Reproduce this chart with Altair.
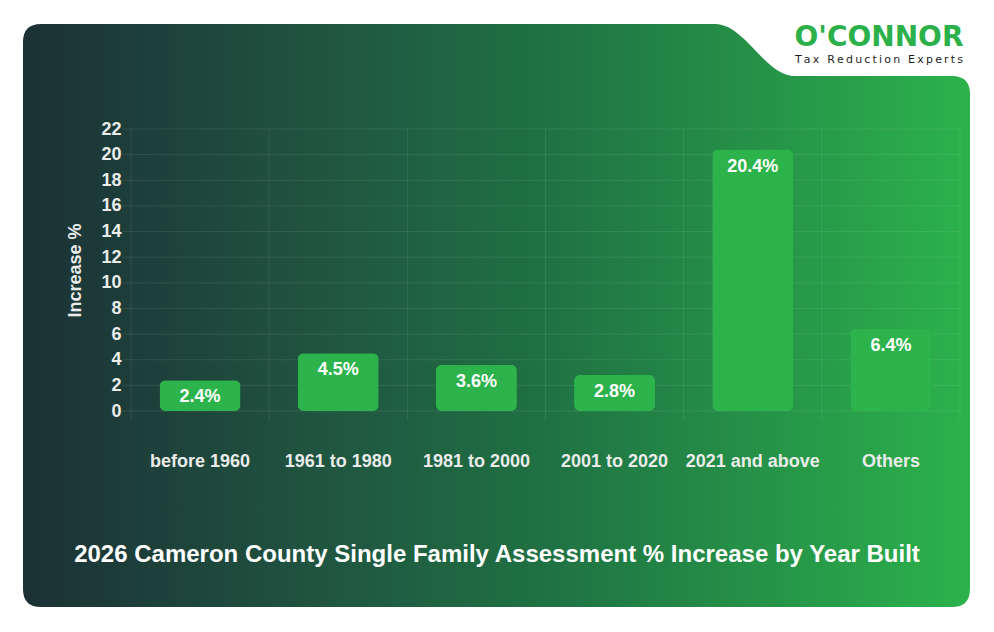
import altair as alt
import pandas as pd

# ---- data -------------------------------------------------------------
categories = ["before 1960", "1961 to 1980", "1981 to 2000",
              "2001 to 2020", "2021 and above", "Others"]
increase = [2.4, 4.5, 3.6, 2.8, 20.4, 6.4]
y_ticks = [0, 2, 4, 6, 8, 10, 12, 14, 16, 18, 20, 22]

chart_title = "2026 Cameron County Single Family Assessment % Increase by Year Built"
brand = "O'CONNOR"
tagline = "Tax Reduction Experts"

# ---- layout (plot area placed inside a 994x632 canvas) -----------------
W, H = 829, 282          # plot area
OX, OY = 131, 129        # plot origin on the canvas
PAD = {"left": OX, "top": OY, "right": 994 - OX - W, "bottom": 632 - OY - H}


def canvas_path(cmds):
    """Build an SVG path in plot coordinates from canvas-coordinate commands."""
    out = []
    for cmd, *pts in cmds:
        coords = []
        for i in range(0, len(pts), 2):
            coords.append(f"{pts[i] - OX},{pts[i + 1] - OY}")
        out.append(cmd + " ".join(coords))
    return " ".join(out) + " Z"


# rounded panel with an S-shaped notch at the top right for the brand mark
panel_shape = canvas_path([
    ("M", 41, 24), ("L", 715, 24),
    ("C", 745, 24, 765, 76, 795, 76),
    ("L", 952, 76), ("Q", 970, 76, 970, 94),
    ("L", 970, 589), ("Q", 970, 607, 952, 607),
    ("L", 41, 607), ("Q", 23, 607, 23, 589),
    ("L", 23, 42), ("Q", 23, 24, 41, 24),
])

panel_fill = alt.Gradient(
    gradient="linear", x1=0, x2=1, y1=0, y2=0,
    stops=[
        alt.GradientStop(offset=0.0, color="#1b3135"),
        alt.GradientStop(offset=0.3, color="#205340"),
        alt.GradientStop(offset=0.55, color="#1f7143"),
        alt.GradientStop(offset=1.0, color="#2cb24c"),
    ],
)

df = pd.DataFrame({"category": categories, "increase": increase})
df["label"] = [f"{v:.1f}%" for v in increase]
ticks_df = pd.DataFrame({"increase": y_ticks})
one = alt.Data(values=[{"k": 1}])

label_color = "#e9ecea"
grid_color = "#ffffff"
FONT = "Liberation Sans"

x_scale = alt.Scale(paddingInner=0, paddingOuter=0)
y_scale = alt.Scale(domain=[0, 22], nice=False, zero=True)

x_axis = alt.Axis(labelFontSize=18, labelFontWeight="bold", labelColor=label_color,
                  labelFont=FONT, labelPadding=41, labelAngle=0, bandPosition=0.5,
                  labelOverlap=False, ticks=False, domain=False, grid=False,
                  title=None, zindex=1)
y_axis = alt.Axis(values=y_ticks, labelFontSize=18, labelFontWeight="bold",
                  labelColor=label_color, labelFont=FONT, labelOverlap=False,
                  labelPadding=10, ticks=False, domain=False, grid=False,
                  title="Increase %",
                  titleFontSize=18, titleFontWeight="bold", titleColor=label_color,
                  titleFont=FONT, titleX=-56, titleY=H / 2,
                  titleAngle=-90, titleAlign="center", titleBaseline="middle",
                  zindex=1)


def xcat(**kw):
    return alt.X("category:N", sort=categories, scale=x_scale, axis=x_axis, **kw)


def yval():
    return alt.Y("increase:Q", scale=y_scale, axis=y_axis)


panel = alt.Chart(one).mark_point(
    shape=panel_shape, size=4, filled=True, fill=panel_fill,
    opacity=1, strokeWidth=0,
).encode(x=alt.value(0), y=alt.value(0))

h_grid = alt.Chart(ticks_df).mark_rule(color=grid_color, opacity=0.09, strokeWidth=1).encode(
    y=yval(), x=alt.value(-9), x2=alt.value(W),
)

v_grid = alt.Chart(df).mark_rule(color=grid_color, opacity=0.09, strokeWidth=1).encode(
    x=xcat(bandPosition=0), y=alt.value(0), y2=alt.value(H + 9),
)

v_grid_end = alt.Chart(one).mark_rule(color=grid_color, opacity=0.09, strokeWidth=1).encode(
    x=alt.value(W), y=alt.value(0), y2=alt.value(H + 9),
)

bars = alt.Chart(df).mark_bar(width=81, cornerRadius=6, color="#2db34c").encode(
    x=xcat(), y=yval(),
)

bar_labels = alt.Chart(df).mark_text(
    dy=17, baseline="middle", align="center", fontSize=18, fontWeight="bold",
    font=FONT, color="white",
).encode(x=xcat(), y=yval(), text="label:N")

title_mark = alt.Chart(one).mark_text(
    text=chart_title, fontSize=24, fontWeight="bold", font=FONT,
    color="white", align="center", baseline="middle",
).encode(x=alt.value(497 - OX), y=alt.value(555 - OY))

brand_mark = alt.Chart(one).mark_text(
    text=brand, fontSize=28, fontWeight="bold", font="DejaVu Sans",
    color="#2bb04a", align="center", baseline="alphabetic",
).encode(x=alt.value(879 - OX), y=alt.value(46 - OY))

tagline_mark = alt.Chart(one).mark_text(
    text="\u2009".join(tagline), fontSize=11, font="DejaVu Sans",
    color="#1e1e1e", align="center", baseline="alphabetic",
).encode(x=alt.value(879 - OX), y=alt.value(63 - OY))

chart = alt.layer(
    panel, h_grid, v_grid, v_grid_end, bars, bar_labels,
    title_mark, brand_mark, tagline_mark,
).properties(
    width=W, height=H, padding=PAD,
    autosize=alt.AutoSizeParams(type="none"),
    background="white",
).configure_view(stroke=None)

chart.save("out.html", embed_options={"renderer": "svg", "actions": False})
